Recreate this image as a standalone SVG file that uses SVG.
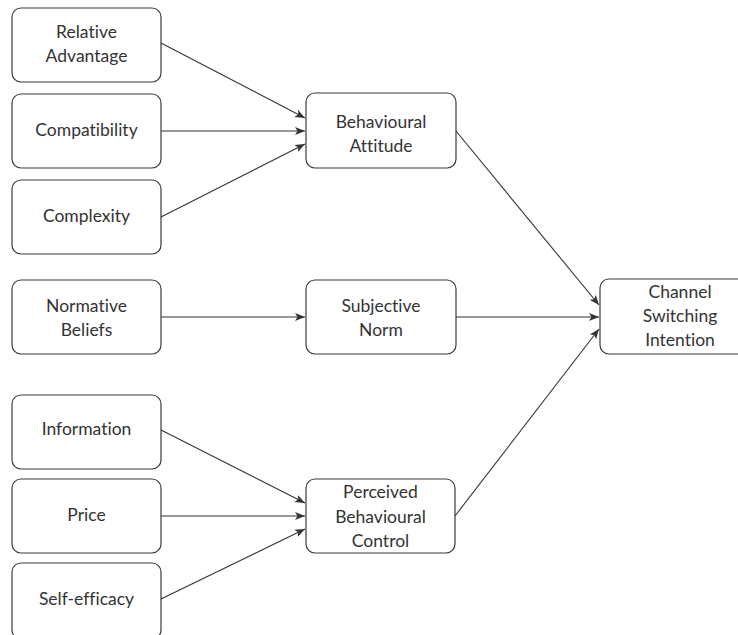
<svg xmlns="http://www.w3.org/2000/svg" width="738" height="635" viewBox="0 0 738 635">
<defs>
<style>
.box{fill:#fff;stroke:#3a3a3a;stroke-width:1.2}
.t{font-family:Lato,"Open Sans","Liberation Sans",sans-serif;font-size:17.5px;fill:#333;text-anchor:middle;font-variant-ligatures:none;font-feature-settings:"liga" 0}
.c{stroke:#333;stroke-width:1.1;fill:none;marker-end:url(#ah)}
</style>
<marker id="ah" viewBox="0 0 10 10" refX="10" refY="5" markerWidth="10" markerHeight="10" markerUnits="userSpaceOnUse" orient="auto">
<path d="M0,1 L10,5 L0,9 L2.5,5 Z" fill="#333"/>
</marker>
</defs>
<rect width="738" height="635" fill="#fff"/>
<g id="n-relative"><rect class="box" x="12" y="8" width="149" height="74" rx="9"/><text class="t" x="86.5" y="38">Relative</text><text class="t" x="86.5" y="62">Advantage</text></g>
<g id="n-compat"><rect class="box" x="12" y="94" width="149" height="74" rx="9"/><text class="t" x="86.5" y="136">Compatibility</text></g>
<g id="n-complex"><rect class="box" x="12" y="180" width="149" height="74" rx="9"/><text class="t" x="86.5" y="222">Complexity</text></g>
<g id="n-normative"><rect class="box" x="12" y="280" width="149" height="74" rx="9"/><text class="t" x="86.5" y="312">Normative</text><text class="t" x="86.5" y="336">Beliefs</text></g>
<g id="n-info"><rect class="box" x="12" y="395" width="149" height="74" rx="9"/><text class="t" x="86.5" y="435">Information</text></g>
<g id="n-price"><rect class="box" x="12" y="479" width="149" height="74" rx="9"/><text class="t" x="86.5" y="521">Price</text></g>
<g id="n-self"><rect class="box" x="12" y="563" width="149" height="76" rx="9"/><text class="t" x="86.5" y="605">Self-efficacy</text></g>
<g id="n-attitude"><rect class="box" x="306" y="93" width="150" height="75" rx="9"/><text class="t" x="381" y="128">Behavioural</text><text class="t" x="381" y="152">Attitude</text></g>
<g id="n-norm"><rect class="box" x="306" y="280" width="150" height="74" rx="9"/><text class="t" x="381" y="312">Subjective</text><text class="t" x="381" y="336">Norm</text></g>
<g id="n-pbc"><rect class="box" x="306" y="479" width="149" height="74" rx="9"/><text class="t" x="380.5" y="498">Perceived</text><text class="t" x="380.5" y="523">Behavioural</text><text class="t" x="380.5" y="547">Control</text></g>
<g id="n-intention"><rect class="box" x="600" y="279" width="150" height="75" rx="9"/><text class="t" x="680" y="298">Channel</text><text class="t" x="680" y="322">Switching</text><text class="t" x="680" y="346">Intention</text></g>
<g id="connectors">
<line class="c" x1="161" y1="43" x2="305" y2="118"/>
<line class="c" x1="161" y1="131" x2="305" y2="131"/>
<line class="c" x1="161" y1="217" x2="305" y2="144"/>
<line class="c" x1="161" y1="317" x2="305" y2="317"/>
<line class="c" x1="161" y1="430" x2="305" y2="503"/>
<line class="c" x1="161" y1="516" x2="305" y2="516"/>
<line class="c" x1="161" y1="599" x2="305" y2="529"/>
<line class="c" x1="456" y1="131" x2="599" y2="305"/>
<line class="c" x1="456" y1="317" x2="599" y2="317"/>
<line class="c" x1="455" y1="516" x2="599" y2="329"/>
</g>
</svg>
